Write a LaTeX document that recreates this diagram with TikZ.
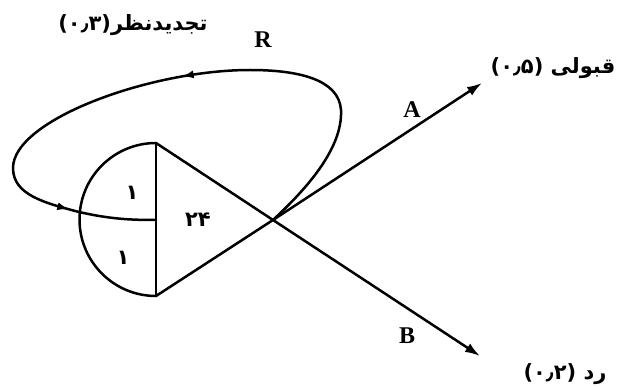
\documentclass[tikz,border=0pt]{standalone}
\usepackage{fontspec}
\setmainfont{Liberation Serif}
\newfontfamily\arabicfont[Script=Arabic]{DejaVu Sans}
\TeXXeTstate=1
\usetikzlibrary{arrows.meta,decorations.markings}
\begin{document}
\begin{tikzpicture}[x=1pt,y=-1pt,
  ln/.style={line width=2.5pt,line cap=round,line join=round},
  bigarrow/.style={ln,-{Latex[length=15pt,width=10pt]}},
  lat/.style={font=\bfseries\fontsize{24}{28}\selectfont},
  fa/.style={font=\arabicfont\bfseries\fontsize{21}{25}\selectfont},
  digit/.style={font=\arabicfont\bfseries\fontsize{21}{25}\selectfont}]
\useasboundingbox (0,0) rectangle (620,387);
\coordinate (V1) at (156,143);
\coordinate (V2) at (156,296);
\coordinate (M) at (156,220);
\coordinate (X) at (273,220);
\coordinate (Aend) at (482,83);
\coordinate (Bend) at (480,356);
% semicircle and vertical
\draw[ln] (V1) -- (V2);
\draw[ln] (V1) arc[start angle=270,end angle=90,radius=76.5];
% triangle lines through X
\draw[bigarrow] (V2) -- (X) -- (Aend);
\draw[bigarrow] (V1) -- (X) -- (Bend);
% loop
\draw[ln,postaction={decorate},decoration={markings,
   mark=at position 0.46 with {\arrow{Latex[length=12pt,width=8pt]}},
   mark=at position 0.87 with {\arrow{Latex[length=12pt,width=8pt]}}}]
  (X) .. controls (303,192) and (343,150) .. (341,110)
      .. controls (339,80) and (300,70) .. (250,70)
      .. controls (150,70) and (13,120) .. (13,168)
      .. controls (13,195) and (45,203) .. (79,212)
      .. controls (110,219) and (130,220) .. (M);
% labels
\node[lat] (R) at (263,40) {R};
\node[lat] (A) at (412,110) {A};
\node[lat] (B) at (407,336) {B};
\node[fa] (tr) at (133,25) {\beginR تجدیدنظر\beginL(۰٫۳)\endL\endR};
\node[fa] (ta) at (553,68) {\beginR قبولی \beginL(۰٫۵)\endL\endR};
\node[fa] (tb) at (565,374) {\beginR رد \beginL(۰٫۲)\endL\endR};
\node[digit] (d1) at (132,193) {۱};
\node[digit] (d2) at (123,258) {۱};
\node[digit] (d3) at (198,220) {۲۴};
\end{tikzpicture}
\end{document}
